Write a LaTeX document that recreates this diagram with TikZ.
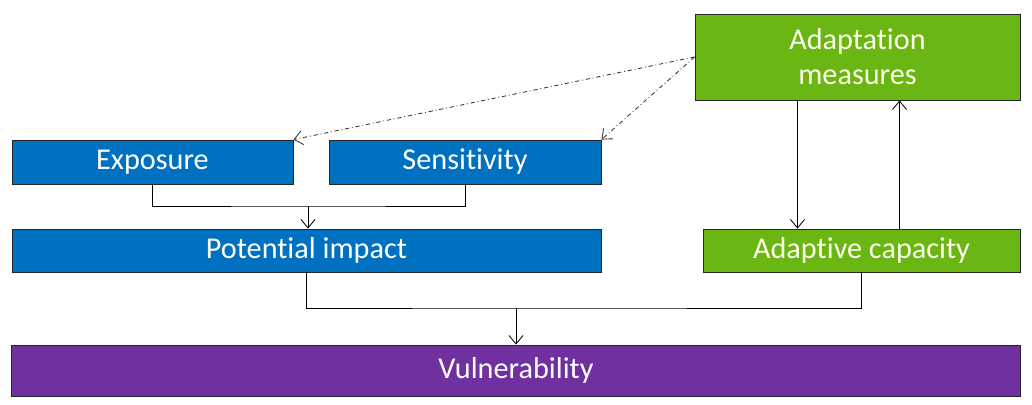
\documentclass[tikz,border=0pt]{standalone}
\usepackage{fontspec}
\setmainfont[Ligatures=NoCommon, RawFeature={-liga;-calt;-dlig}]{Carlito}
\usetikzlibrary{arrows.meta}

\definecolor{impactblue}{RGB}{0,112,192}
\definecolor{adaptgreen}{RGB}{106,182,18}
\definecolor{vulnpurple}{RGB}{112,48,160}

\tikzset{
  box/.style={draw=black!85, line width=0.6pt, text=white, inner sep=0pt,
    align=center, font=\fontsize{21.5}{25}\selectfont},
  bluebox/.style={box, fill=impactblue},
  greenbox/.style={box, fill=adaptgreen, text=white!92!yellow},
  purplebox/.style={box, fill=vulnpurple},
  link/.style={line width=0.6pt, -{Straight Barb[length=6pt,width=10pt]}},
  hint/.style={link, dash dot, black!80}
}

\begin{document}
\begin{tikzpicture}[x=0.025cm, y=-0.025cm]
  \useasboundingbox (0,0) rectangle (1032,404);

  % Boxes
  \node[bluebox, minimum width=7.025cm, minimum height=1.1cm] (expo) at (152.5,162) {Exposure};
  \node[bluebox, minimum width=6.8cm, minimum height=1.1cm] (sens) at (465,162) {Sensitivity};
  \node[bluebox, minimum width=14.725cm, minimum height=1.075cm] (impact) at (306.5,250.5) {Potential impact};
  \node[greenbox, minimum width=8.125cm, minimum height=2.15cm] (measures) at (857.5,57) {Adaptation\\measures};
  \node[greenbox, minimum width=7.925cm, minimum height=1.075cm] (capacity) at (861.5,250.5) {Adaptive capacity};
  \node[purplebox, minimum width=25.2cm, minimum height=1.275cm] (vuln) at (516,370.5) {Vulnerability};

  % Exposure + sensitivity -> potential impact
  \coordinate (join1) at (308,206);
  \draw[line width=0.6pt] (expo.south) |- (join1) -| (sens.south);
  \draw[link] (join1) -- (impact.north -| join1);

  % Potential impact + adaptive capacity -> vulnerability
  \coordinate (join2) at (516,308);
  \draw[line width=0.6pt] (impact.south) |- (join2) -| (capacity.south);
  \draw[link] (join2) -- (vuln.north);

  % Adaptation loop
  \draw[link] ([xshift=-1.5cm]measures.south) -- ([xshift=-1.5cm]measures.south |- capacity.north);
  \draw[link] ([xshift=1.05cm]measures.south |- capacity.north) -- ([xshift=1.05cm]measures.south);

  % Dash-dotted influence
  \draw[hint] (measures.west) -- (expo.north east);
  \draw[hint] (measures.west) -- (sens.north east);
\end{tikzpicture}
\end{document}
